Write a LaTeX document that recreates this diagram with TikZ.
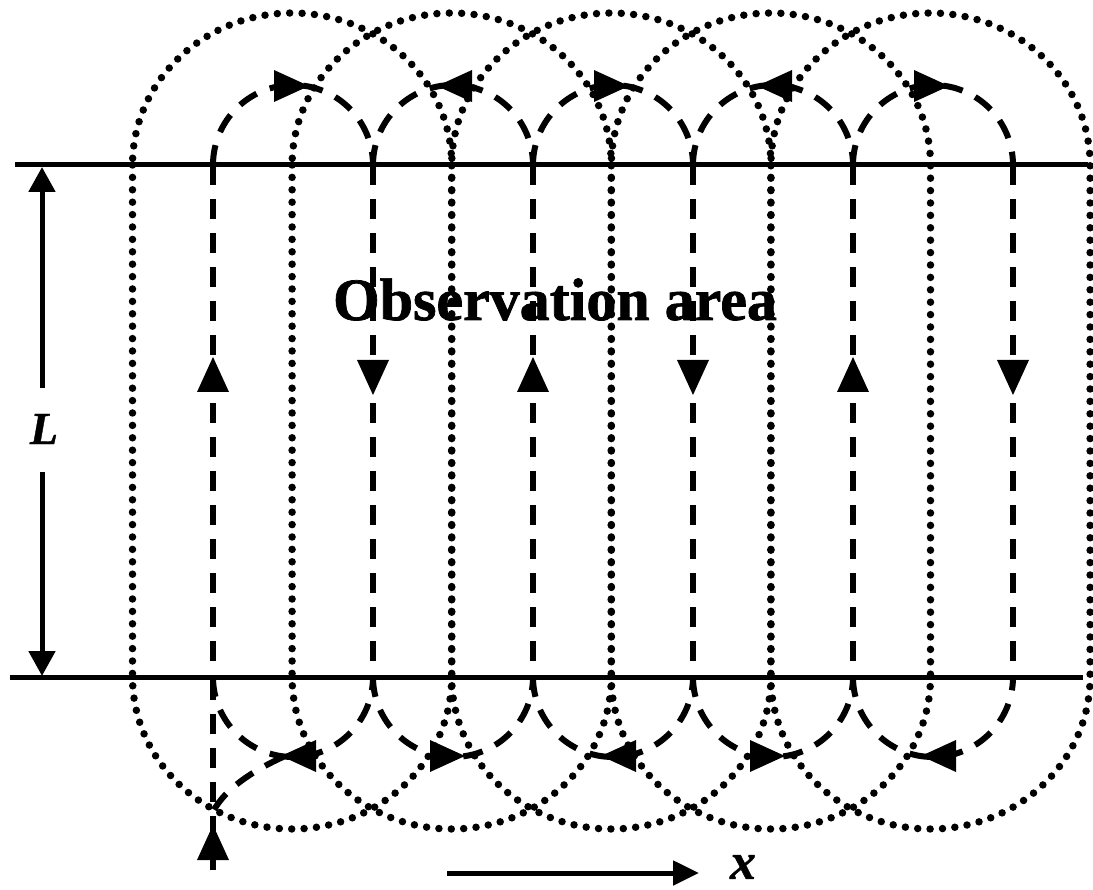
\documentclass[tikz,border=0pt]{standalone}
\usepackage{fontspec}
\setmainfont{Liberation Serif}
\newfontfamily\obsfont[FakeBold=1.2]{Liberation Serif Bold}
\newfontfamily\symfont[FakeBold=0.8]{Liberation Serif Bold Italic}
\usetikzlibrary{arrows.meta}
\tikzset{
  dotline/.style={line width=7.5pt,line cap=round,dash pattern=on 0pt off 12.4pt},
  dashline/.style={line width=6pt,dash pattern=on 20pt off 14pt},
  solidline/.style={line width=5pt},
  bigtip/.style={-{Triangle[length=25pt,width=26pt]}},
  arrowtri/.pic={\fill (0,0) -- (-35,-16) -- (-35,16) -- cycle;},
  lbl/.style={inner sep=0pt}
}
\begin{document}
\begin{tikzpicture}[x=1pt,y=-1pt]
\useasboundingbox (0,0) rectangle (1093,890);
\fill[white] (0,0) rectangle (1093,890);

% title text
\node[lbl,font=\obsfont\fontsize{60}{62}\selectfont,anchor=base] (obs) at (555,320) {Observation area};

% boundary lines
\coordinate (TL) at (15,165);  \coordinate (TR) at (1088,165);
\coordinate (BL) at (10,677);  \coordinate (BR) at (1083,677);
\draw[solidline] (TL) -- (TR);
\draw[solidline] (BL) -- (BR);

% L dimension
\node[lbl,font=\symfont\fontsize{46}{46}\selectfont] (L) at (44,429) {L};
\coordinate (Lu) at (42,388); \coordinate (Ltop) at (42,167);
\coordinate (Ld) at (42,472); \coordinate (Lbot) at (42,676);
\draw[solidline,bigtip] (Lu) -- (Ltop);
\draw[solidline,bigtip] (Ld) -- (Lbot);

% x axis arrow
\node[lbl,font=\symfont\fontsize{52}{52}\selectfont] (xl) at (743,867) {x};
\coordinate (xs) at (447,873); \coordinate (xe) at (699,873);
\draw[solidline,-{Triangle[length=26pt,width=24pt]}] (xs) -- (xe);

% dotted stadiums
\foreach \i in {0,...,4}{
  \pgfmathsetmacro\xa{132.5+159.6*\i}
  \draw[dotline] (\xa,165) -- (\xa,677)
    arc[start angle=180,end angle=0,x radius=159.6,y radius=152]
    -- (\xa+319.2,165)
    arc[start angle=0,end angle=-180,x radius=159.6,y radius=152] -- cycle;
}

% dashed flow lines
\foreach \j in {0,...,5}{
  \draw[dashline] (213+160*\j,165) -- (213+160*\j,677);
}
\foreach \j in {0,...,4}{
  \draw[dashline] (213+160*\j,165) arc[start angle=180,end angle=360,radius=80];
  \draw[dashline] (213+160*\j,677) arc[start angle=180,end angle=0,radius=80];
}
\draw[dashline] (213,870) -- (213,677);
\draw[dashline] (283,757) .. controls (250,772) and (225,790) .. (214,810);

% arrowheads on vertical lines
\foreach \j in {0,2,4}{ \pic[rotate=90] at (213+160*\j,357) {arrowtri}; }
\foreach \j in {1,3,5}{ \pic[rotate=-90] at (213+160*\j,395) {arrowtri}; }
\pic[rotate=90] at (213,825) {arrowtri};
% arrowheads on top arcs
\foreach \j in {0,2,4}{ \pic at (293+160*\j+16,86) {arrowtri}; }
\foreach \j in {1,3}{ \pic[rotate=180] at (293+160*\j-16,86) {arrowtri}; }
% arrowheads on bottom arcs
\foreach \j in {0,2,4}{ \pic[rotate=180] at (293+160*\j-12,756) {arrowtri}; }
\foreach \j in {1,3}{ \pic at (293+160*\j+12,756) {arrowtri}; }
\end{tikzpicture}
\end{document}
